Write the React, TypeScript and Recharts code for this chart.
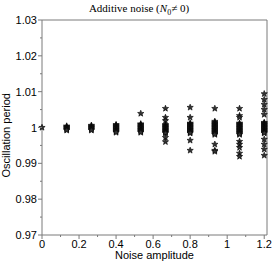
import { ReferenceLine, Scatter, ScatterChart, XAxis, YAxis } from "recharts";

// noise amplitudes (x positions of the columns)
const noiseAmp = [0, 0.1333, 0.2667, 0.4, 0.5333, 0.6667, 0.8, 0.9333, 1.0667, 1.2];

// oscillation periods read per column
const col0 = [1.0];
const col1 = [1.0004, 1.0002, 1.0, 0.9998, 0.9996, 0.9994, 0.9992];
const col2 = [1.0006, 1.0004, 1.0002, 1.0, 0.9998, 0.9996, 0.9994, 0.9992];
const col3 = [1.0008, 1.0006, 1.0004, 1.0002, 1.0, 0.9998, 0.9996, 0.9994, 0.9992, 0.999, 0.9988, 0.9986];
const col4 = [1.0039, 1.001, 1.0008, 1.0006, 1.0004, 1.0002, 1.0, 0.9998, 0.9996, 0.9994, 0.9992, 0.999, 0.9988, 0.9986];
const col5 = [1.0053, 1.0028, 1.0019, 1.0008, 1.0006, 1.0004, 1.0002, 1.0, 0.9998, 0.9996, 0.9994, 0.9992, 0.999, 0.9988, 0.9986, 0.9984, 0.9972, 0.996];
const col6 = [1.0056, 1.0028, 1.0012, 1.001, 1.0008, 1.0006, 1.0004, 1.0002, 1.0, 0.9998, 0.9996, 0.9994, 0.9992, 0.999, 0.9988, 0.9986, 0.9984, 0.9964, 0.9936];
const col7 = [1.0053, 1.0017, 1.0014, 1.0012, 1.001, 1.0008, 1.0006, 1.0004, 1.0002, 1.0, 0.9998, 0.9996, 0.9994, 0.9992, 0.999, 0.9988, 0.9986, 0.9984, 0.9982, 0.998, 0.9953, 0.9936, 0.9933];
const col8 = [1.0053, 1.0033, 1.0028, 1.0012, 1.001, 1.0008, 1.0006, 1.0004, 1.0002, 1.0, 0.9998, 0.9996, 0.9994, 0.9992, 0.999, 0.9988, 0.9986, 0.9984, 0.9982, 0.998, 0.9961, 0.9953, 0.9944, 0.9928, 0.9919];
const col9 = [1.0094, 1.0078, 1.0064, 1.005, 1.0036, 1.0014, 1.0012, 1.001, 1.0008, 1.0006, 1.0004, 1.0002, 1.0, 0.9998, 0.9996, 0.9994, 0.9992, 0.999, 0.9988, 0.9986, 0.9984, 0.9967, 0.9953, 0.9939, 0.9922];
const periods = [col0, col1, col2, col3, col4, col5, col6, col7, col8, col9];

const xTicks = [0, 0.1, 0.2, 0.3, 0.4, 0.5, 0.6, 0.7, 0.8, 0.9, 1, 1.1, 1.2];
const xLabels: Record<string, string> = { "0": "0", "0.2": "0.2", "0.4": "0.4", "0.6": "0.6", "0.8": "0.8", "1": "1", "1.2": "1.2" };
const yTicks = [0.97, 0.975, 0.98, 0.985, 0.99, 0.995, 1, 1.005, 1.01, 1.015, 1.02, 1.025, 1.03];
const yLabels: Record<string, string> = { "0.97": "0.97", "0.98": "0.98", "0.99": "0.99", "1": "1", "1.01": "1.01", "1.02": "1.02", "1.03": "1.03" };

const data = noiseAmp.flatMap((x, i) => periods[i].map((y) => ({ x, y })));

const AXIS = "#7a7a7a";
const FONT = "'Liberation Sans', Arial, sans-serif";

function starPath(cx: number, cy: number, R: number, r: number) {
  let d = "";
  for (let k = 0; k < 10; k++) {
    const rad = k % 2 === 0 ? R : r;
    const a = -Math.PI / 2 + (k * Math.PI) / 5;
    d += (k === 0 ? "M" : "L") + (cx + rad * Math.cos(a)).toFixed(2) + "," + (cy + rad * Math.sin(a)).toFixed(2);
  }
  return d + "Z";
}

const Star = (props: any) => {
  const { cx, cy } = props;
  if (cx == null || cy == null) return null;
  return <path d={starPath(cx, cy, 3.3, 1.4)} fill="#333" stroke="#000" strokeWidth={0.6} />;
};

const XTick = (props: any) => {
  const { x, y, payload } = props;
  const key = String(+payload.value.toFixed(2));
  const lab = xLabels[key];
  return (
    <g>
      <line x1={x} y1={y} x2={x} y2={y + (lab ? 4 : 2)} stroke={AXIS} />
      {lab && (
        <text x={x} y={y + 13} textAnchor="middle" fontSize={11} fontFamily={FONT} fill="#000">
          {lab}
        </text>
      )}
    </g>
  );
};

const YTick = (props: any) => {
  const { x, y, payload } = props;
  const key = String(+payload.value.toFixed(3));
  const lab = yLabels[key];
  return (
    <g>
      <line x1={x} y1={y} x2={x - (lab ? 4 : 2)} y2={y} stroke={AXIS} />
      {lab && (
        <text x={x - 5} y={y + 4} textAnchor="end" fontSize={11} fontFamily={FONT} fill="#000">
          {lab}
        </text>
      )}
    </g>
  );
};

export default function App() {
  return (
    <div style={{ position: "absolute", left: 0, top: 0, width: 274, height: 264, background: "#fff" }}>
      <div
        style={{
          position: "absolute",
          left: 0,
          top: 2,
          width: 274,
          textAlign: "center",
          fontFamily: "'Liberation Serif', 'Times New Roman', serif",
          fontSize: 11,
          lineHeight: "12px",
          paddingLeft: 2,
        }}
      >
        Additive noise (<i>N</i>
        <sub style={{ fontSize: 8 }}>0</sub>≠ 0)
      </div>
      <ScatterChart width={274} height={264} margin={{ top: 20, right: 7, bottom: 0, left: 0 }}>
        <XAxis
          type="number"
          dataKey="x"
          domain={[0, 1.215]}
          ticks={xTicks}
          interval={0}
          tickSize={0}
          tickMargin={0}
          tickLine={false}
          tick={<XTick />}
          axisLine={{ stroke: AXIS }}
          height={29}
          label={{ value: "Noise amplitude", position: "insideBottom", offset: 5, fontSize: 11, fontFamily: FONT, fill: "#000" }}
        />
        <YAxis
          type="number"
          dataKey="y"
          domain={[0.97, 1.03]}
          ticks={yTicks}
          interval={0}
          tickSize={0}
          tickMargin={0}
          tickLine={false}
          tick={<YTick />}
          axisLine={{ stroke: AXIS }}
          width={42}
          label={{ value: "Oscillation period", angle: -90, position: "insideLeft", offset: 6, dy: 50, fontSize: 11, fontFamily: FONT, fill: "#000" }}
        />
        <ReferenceLine y={1.03} stroke={AXIS} />
        <ReferenceLine x={1.215} stroke={AXIS} />
        <Scatter data={data} shape={<Star />} isAnimationActive={false} />
      </ScatterChart>
    </div>
  );
}
